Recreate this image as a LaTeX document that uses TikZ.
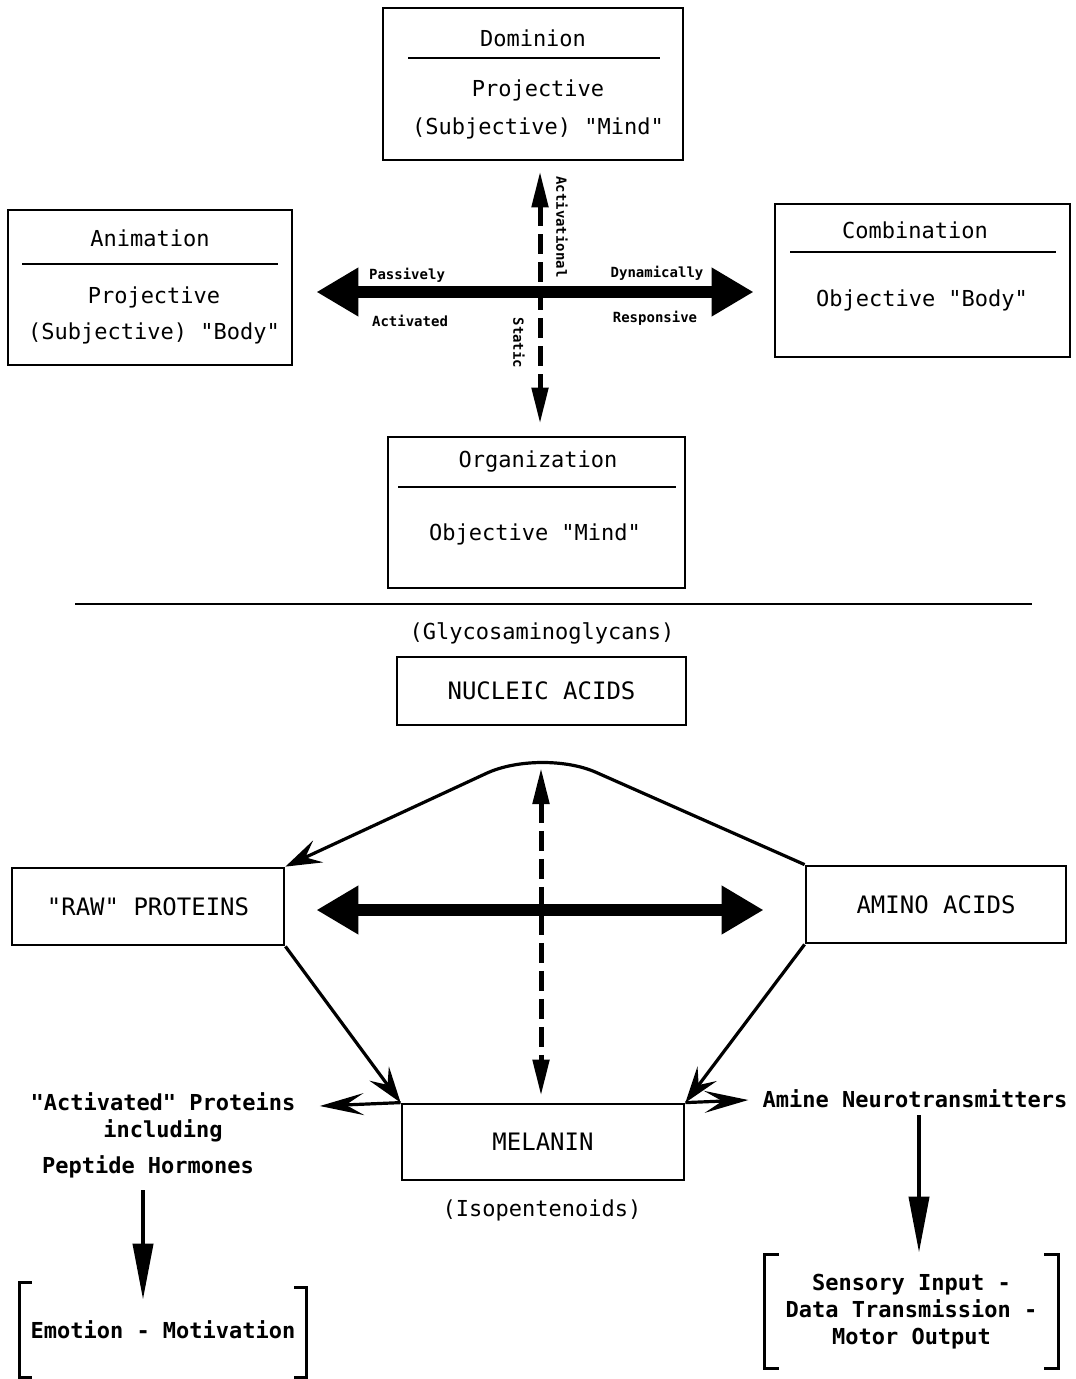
\documentclass[tikz,border=0pt]{standalone}
\usepackage{fontspec}
\setmonofont{DejaVu Sans Mono}
\usetikzlibrary{arrows.meta,positioning,calc}

\begin{document}
\begin{tikzpicture}[x=0.5pt,y=-0.5pt]

% --------- styles ----------
\tikzset{
  box/.style={draw,line width=1.4pt,inner sep=0pt},
  lbl/.style={font=\ttfamily\fontsize{11}{13.5}\selectfont,inner sep=1pt},
  blbl/.style={font=\ttfamily\bfseries\fontsize{11}{13.5}\selectfont,inner sep=1pt,align=center},
  caps/.style={font=\ttfamily\fontsize{12}{14}\selectfont},
  smalllbl/.style={font=\ttfamily\bfseries\fontsize{7}{8}\selectfont,inner sep=1pt},
  rulel/.style={line width=1pt},
  bigarr/.style={line width=6pt,{Triangle[length=21pt,width=23pt]}-{Triangle[length=21pt,width=23pt]}},
  dasharr/.style={line width=2.5pt,dash pattern=on 10pt off 4pt,{Triangle[length=18pt,width=8pt]}-{Triangle[length=18pt,width=8pt]}},
  thinarr/.style={line width=1.6pt,-{Stealth[length=18pt,width=12pt,inset=7pt]}},
  sidearr/.style={line width=1.6pt,-{Stealth[length=22pt,width=11pt,inset=9pt]}},
  downarr/.style={line width=2pt,-{Triangle[length=28pt,width=10pt]}},
  brk/.style={line width=1.3pt}
}

\useasboundingbox (0,0) rectangle (1075,1379);

% ===================== upper part =====================
\node[box,minimum width=150pt,minimum height=76pt] (dom) at (533,84) {};
\node[lbl] (domt) at (533,38) {Dominion};
\draw[rulel] (408,58) -- (660,58);
\node[lbl] (dom1) at (538,90) {Projective};
\node[lbl] (dom2) at (538,128) {(Subjective) "Mind"};

\node[box,minimum width=142pt,minimum height=77.5pt] (ani) at (150,287.5) {};
\node[lbl] (anit) at (150,238) {Animation};
\draw[rulel] (22,264) -- (278,264);
\node[lbl] (ani1) at (154,297) {Projective};
\node[lbl] (ani2) at (154,333) {(Subjective) "Body"};

\node[box,minimum width=147.5pt,minimum height=76.5pt] (comb) at (922.5,280.5) {};
\node[lbl] (combt) at (915,230) {Combination};
\draw[rulel] (790,252) -- (1056,252);
\node[lbl] (comb1) at (922,300) {Objective "Body"};

\node[box,minimum width=148.5pt,minimum height=75.5pt] (org) at (536.5,512.5) {};
\node[lbl] (orgt) at (538,462) {Organization};
\draw[rulel] (398,487) -- (676,487);
\node[lbl] (org1) at (535,534) {Objective "Mind"};

% cross
\coordinate (c) at (540,292);
\draw[dasharr] ($(dom.south -| c)+(0,10)$) -- ($(org.north -| c)+(0,-12)$);
\draw[bigarr] ($(ani.east |- c)+(23,0)$) -- ($(comb.west |- c)+(-20,0)$);

\node[smalllbl] (pas) at (407,275) {Passively};
\node[smalllbl] (act) at (410,321) {Activated};
\node[smalllbl] (dyn) at (657,273) {Dynamically};
\node[smalllbl] (resp) at (655,318) {Responsive};
\node[smalllbl,rotate=-90] (actl) at (562,227) {Activational};
\node[smalllbl,rotate=-90] (stat) at (519,343) {Static};

% separator
\draw[line width=1pt] (75,604) -- (1032,604);

% ===================== lower part =====================
\node[lbl] (glyco) at (542,633) {(Glycosaminoglycans)};
\node[box,caps,minimum width=144.5pt,minimum height=34pt] (nuc) at (541.5,691) {NUCLEIC ACIDS};

\node[box,caps,minimum width=136pt,minimum height=38.5pt] (raw) at (148,906.5) {"RAW" PROTEINS};
\node[box,caps,minimum width=130pt,minimum height=38.5pt] (amino) at (936,904.5) {AMINO ACIDS};
\node[box,caps,minimum width=141pt,minimum height=38pt] (mel) at (543,1142) {MELANIN};
\node[lbl] (isop) at (542,1210) {(Isopentenoids)};

\coordinate (c2) at (541,910);
\coordinate (apex) at (541,748);

% hump
\draw[thinarr,rounded corners=30pt] (amino.north west) -- (apex) -- (raw.north east);
\draw[dasharr] ($(apex)+(0,20)$) -- ($(mel.north -| c2)+(0,-7)$);
\draw[bigarr] ($(raw.east |- c2)+(31,0)$) -- ($(amino.west |- c2)+(-41,0)$);

\draw[thinarr] (raw.south east) -- (mel.north west);
\draw[thinarr] (amino.south west) -- (mel.north east);

% outputs
\node[blbl] (actp) at (163,1102) {"Activated" Proteins};
\node[blbl] (incl) at (163,1131) {including};
\node[blbl] (pep) at (148,1167) {Peptide Hormones};
\node[blbl] (amine) at (915,1099) {Amine Neurotransmitters};

\draw[sidearr] (mel.north west) -- ($(actp.east)+(22,4)$);
\draw[sidearr] (mel.north east) -- ($(amine.west)+(-12,1)$);

\node[blbl,minimum width=143pt,minimum height=47pt] (emo) at (163,1330) {Emotion - Motivation};
\node[blbl,minimum width=146.5pt,minimum height=56.5pt] (sens) at (911.5,1311.5)
  {Sensory Input -\\Data Transmission -\\Motor Output};

\coordinate (pa) at (143,1190);
\coordinate (ab) at (919,1115);
\draw[downarr] (pa) -- ($(pa |- emo.north)+(0,17)$);
\draw[downarr] (ab) -- ($(ab |- sens.north)+(0,-2)$);

% brackets
\draw[brk] ($(emo.north west)+(12,0)$) -- (emo.north west) -- (emo.south west) -- ++(12,0);
\draw[brk] ($(emo.north east)+(-12,5)$) -- ($(emo.north east)+(0,5)$) -- (emo.south east) -- ++(-12,0);
\draw[brk] ($(sens.north west)+(14,0)$) -- (sens.north west) -- (sens.south west) -- ++(14,0);
\draw[brk] ($(sens.north east)+(-14,0)$) -- (sens.north east) -- (sens.south east) -- ++(-14,0);

\end{tikzpicture}
\end{document}
